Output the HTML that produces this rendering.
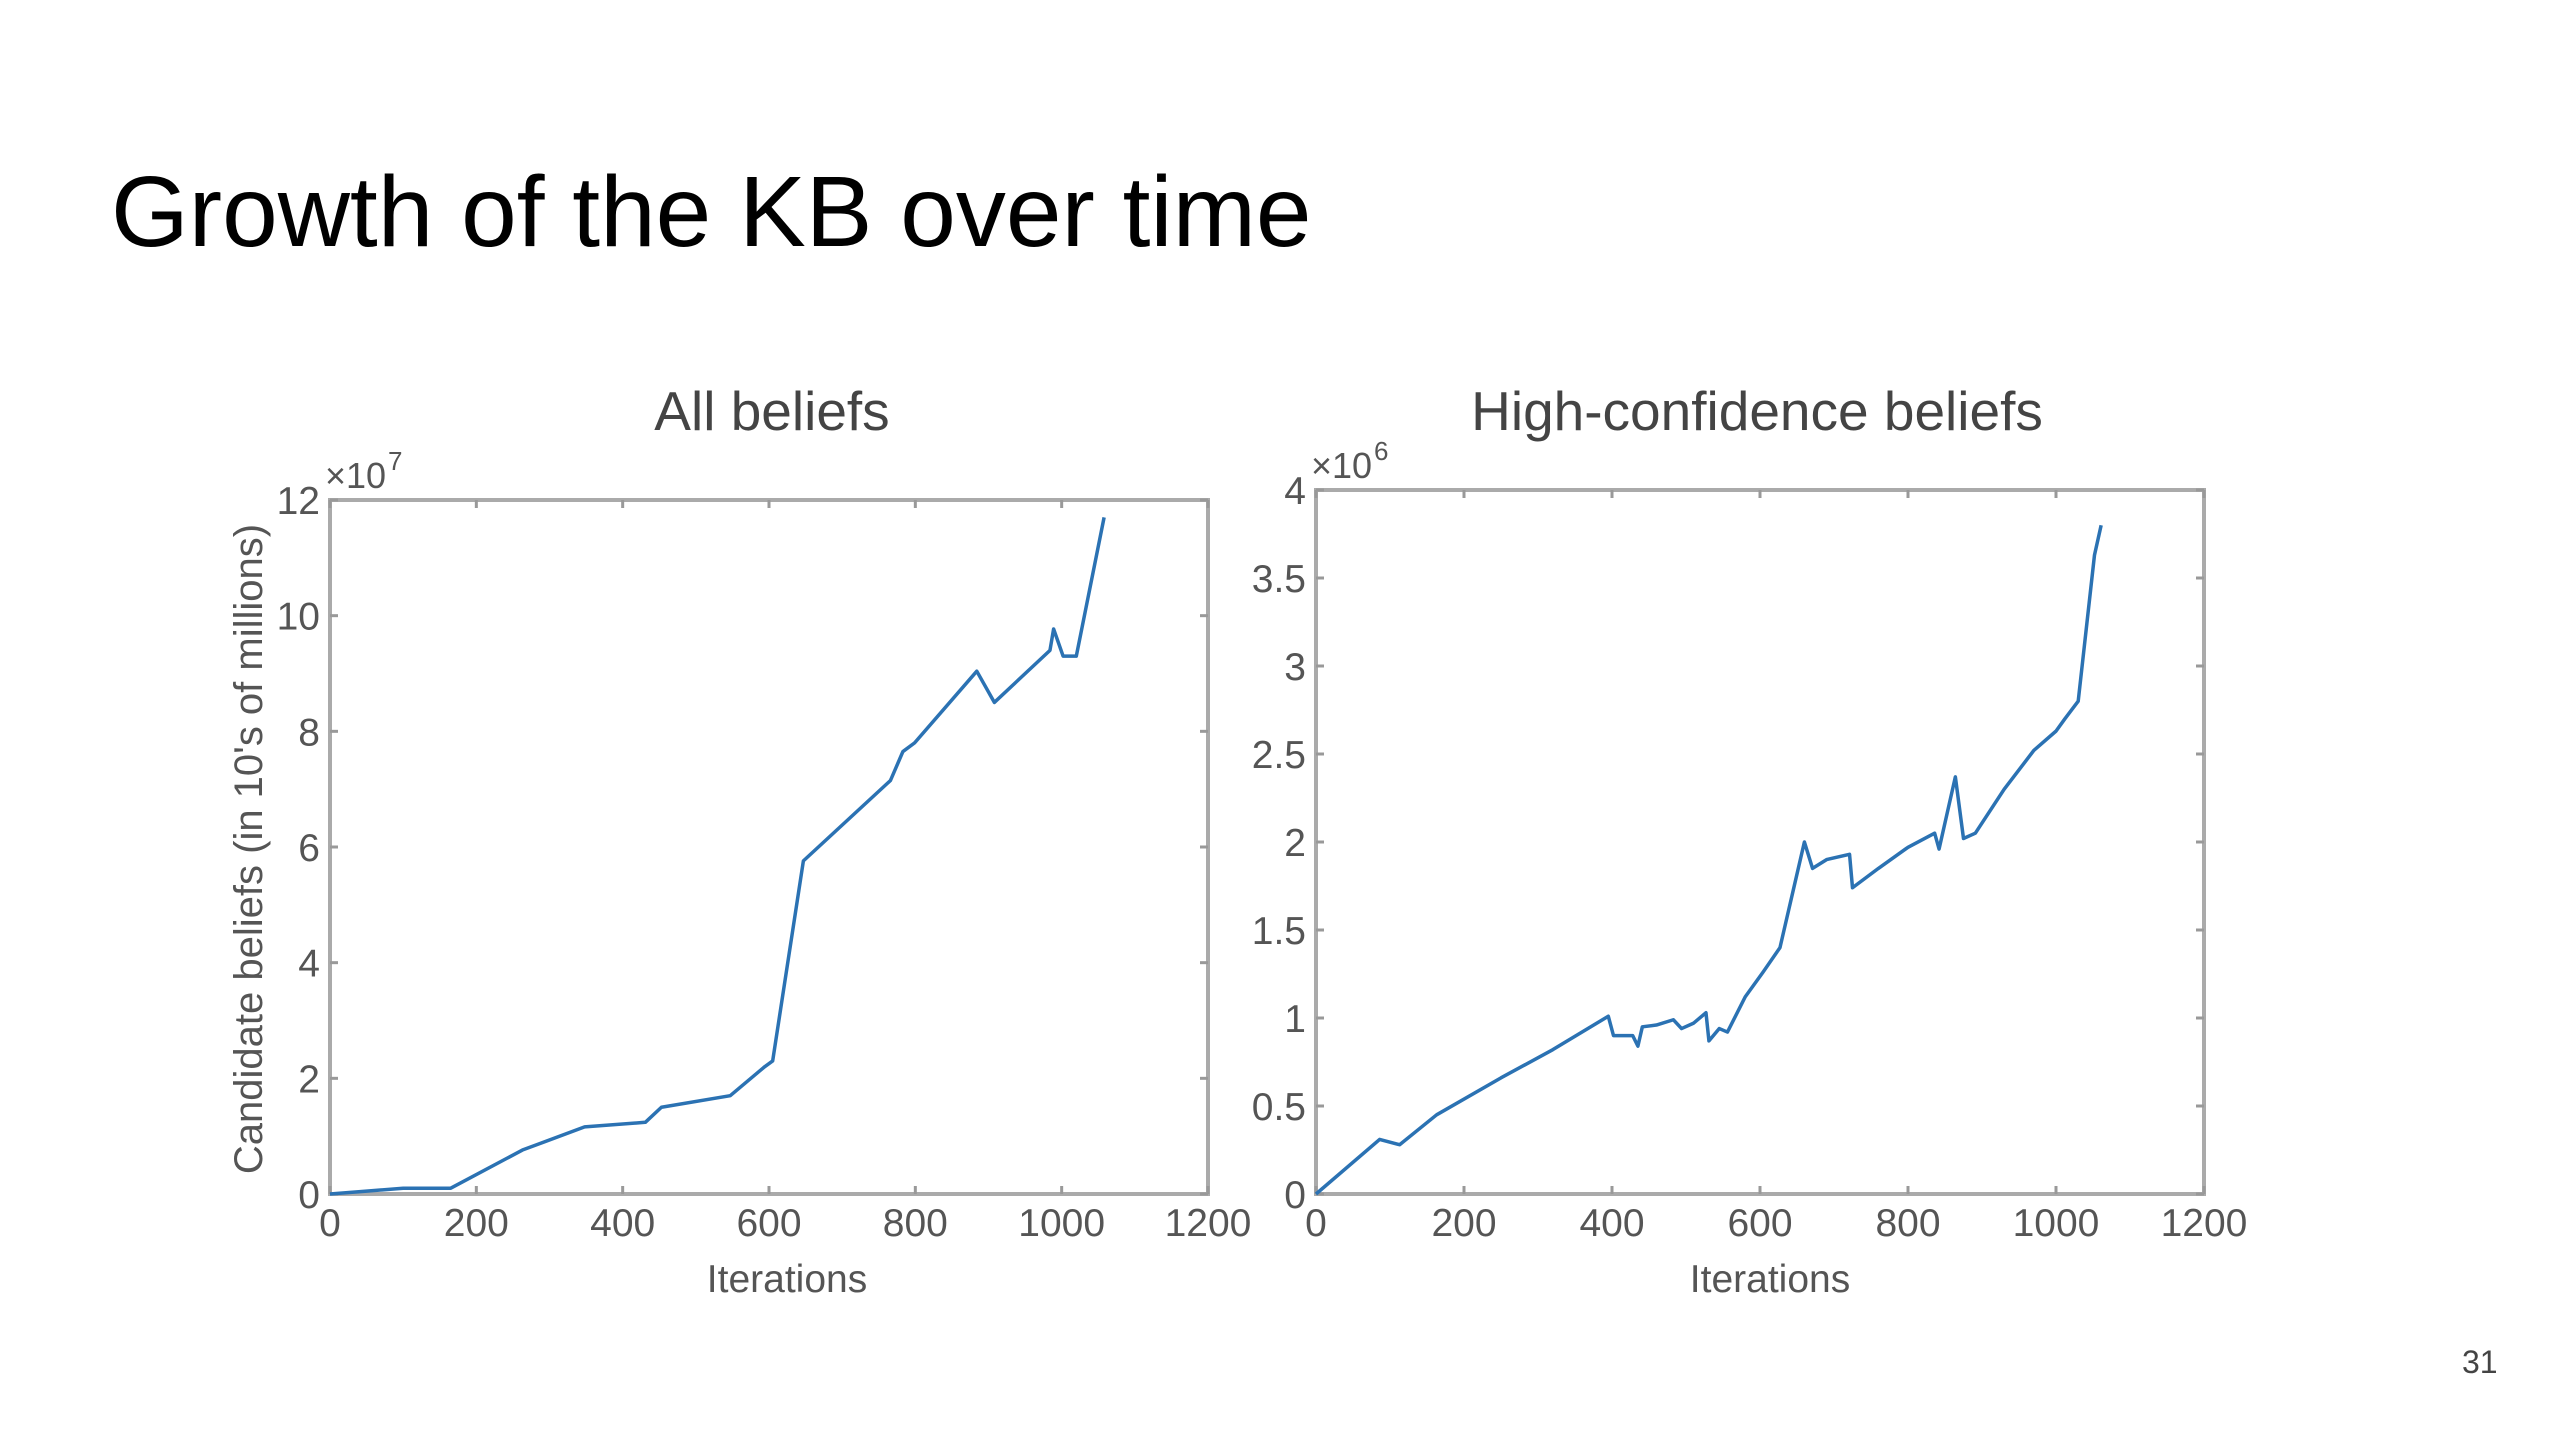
<!DOCTYPE html>
<html><head><meta charset="utf-8"><style>
body{margin:0;background:#fff;width:2560px;height:1440px;overflow:hidden;font-family:"Liberation Sans",sans-serif}
</style></head><body>
<div style="position:absolute;left:111px;top:162px;font-size:100px;color:#000;line-height:1">Growth of the KB over time</div>
<div style="position:absolute;left:2462px;top:1344px;font-size:32px;color:#444">31</div>
<svg id="c" width="2560" height="1440" style="position:absolute;left:0;top:0"></svg>
<script>
const allX=[0,50,100,165,263,348,431,453,547,594,605,647,766,783,799,884,908,984,989,1002,1020,1058];
const allY=[0,0.05,0.1,0.1,0.76,1.16,1.24,1.5,1.7,2.2,2.3,5.76,7.15,7.65,7.8,9.04,8.5,9.4,9.77,9.3,9.3,11.7];
const hiX=[0,86,113,163,250,320,395,402,428,435,441,460,483,494,510,527,531,545,556,580,604,627,660,671,690,721,725,760,800,836,842,864,875,891,930,970,1000,1012,1030,1052,1061];
const hiY=[0,0.31,0.28,0.45,0.66,0.82,1.01,0.9,0.9,0.84,0.95,0.96,0.99,0.94,0.97,1.03,0.87,0.94,0.92,1.12,1.26,1.4,2.0,1.85,1.9,1.93,1.74,1.85,1.97,2.05,1.96,2.37,2.02,2.05,2.3,2.52,2.63,2.7,2.8,3.63,3.8];
const xTicks=[0,200,400,600,800,1000,1200];
const leftYTicks=[0,2,4,6,8,10,12];
const rightYTicks=[0,0.5,1,1.5,2,2.5,3,3.5,4];
const rightYLabels=["0","0.5","1","1.5","2","2.5","3","3.5","4"];
const svg=document.getElementById('c');const NS='http://www.w3.org/2000/svg';
function mk(t,a,txt){const e=document.createElementNS(NS,t);for(const k in a)e.setAttribute(k,a[k]);if(txt!=null)e.textContent=txt;svg.appendChild(e);return e;}
function chart(o){
 const sx=v=>o.l+(v/1200)*(o.r-o.l), sy=v=>o.b-(v/o.ymax)*(o.b-o.t);
 const f='"Liberation Sans",sans-serif';
 let r=mk('rect',{x:o.l,y:o.t,width:o.r-o.l,height:o.b-o.t,fill:'none',stroke:'#aaa','stroke-width':4});
 
 xTicks.forEach(v=>{const x=sx(v);
  mk('line',{x1:x,x2:x,y1:o.b,y2:o.b-8,stroke:'#999','stroke-width':3});
  mk('line',{x1:x,x2:x,y1:o.t,y2:o.t+8,stroke:'#999','stroke-width':3});
  const t=mk('text',{x:x,y:o.b+42,'text-anchor':'middle','font-size':39,fill:'#555','font-family':f},String(v));
  });
 o.yt.forEach((v,i)=>{const y=sy(v);
  mk('line',{x1:o.l,x2:o.l+8,y1:y,y2:y,stroke:'#999','stroke-width':3});
  mk('line',{x1:o.r,x2:o.r-8,y1:y,y2:y,stroke:'#999','stroke-width':3});
  const t=mk('text',{x:o.l-10,y:y+14,'text-anchor':'end','font-size':39,fill:'#555','font-family':f},o.yl[i]);
  });
 const p=mk('polyline',{points:o.xs.map((x,i)=>sx(x)+','+sy(o.ys[i])).join(' '),fill:'none',stroke:'#2b72b3','stroke-width':3.5,'stroke-linejoin':'round'});
 
 let t=mk('text',{x:(o.l+o.r)/2+o.tx,y:430,'text-anchor':'middle','font-size':55,fill:'#444','font-family':f},o.title);
 
 t=mk('text',{x:(o.l+o.r)/2+o.ix,y:o.b+98,'text-anchor':'middle','font-size':39,fill:'#555','font-family':f},'Iterations');
 
 t=mk('text',{x:o.l-5,y:o.t-12,'font-size':36,fill:'#555','font-family':f},'×10');
 
 mk('text',{x:o.l+58,y:o.t-30,'font-size':26,fill:'#555','font-family':f},o.exp);
}
chart({n:'all-beliefs',l:330,r:1208,t:500,b:1194,ymax:12,yt:leftYTicks,yl:leftYTicks.map(String),xs:allX,ys:allY,title:'All beliefs',exp:'7',tx:3,ix:18});
chart({n:'high-confidence',l:1316,r:2204,t:490,b:1194,ymax:4,yt:rightYTicks,yl:rightYLabels,xs:hiX,ys:hiY,title:'High-confidence beliefs',exp:'6',tx:-3,ix:10});
const yt=mk('text',{x:0,y:0,'text-anchor':'middle','font-size':40,fill:'#555','font-family':'"Liberation Sans",sans-serif',transform:'translate(262,849) rotate(-90)'},"Candidate beliefs (in 10's of millions)");


</script>
</body></html>
